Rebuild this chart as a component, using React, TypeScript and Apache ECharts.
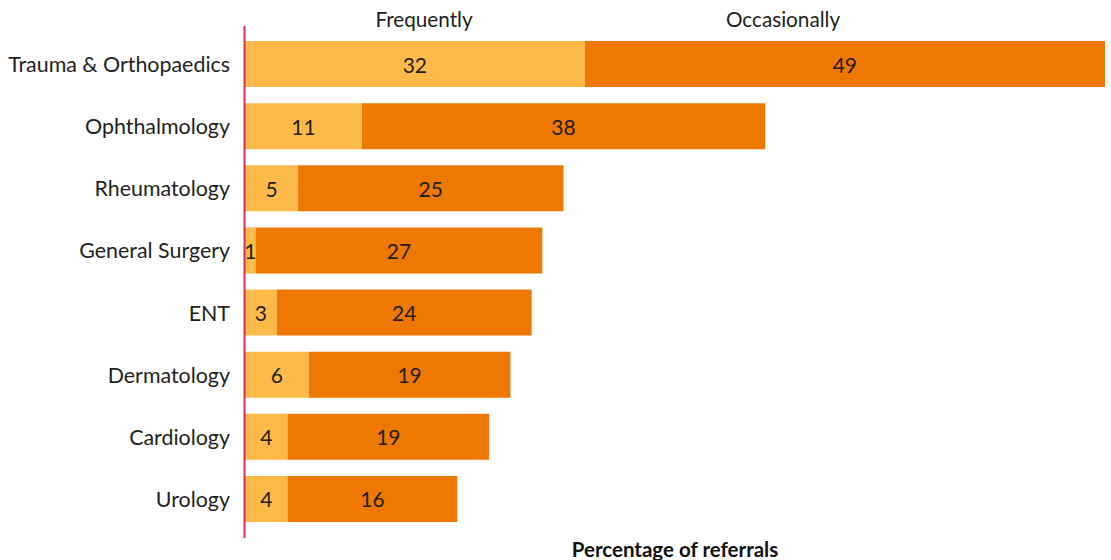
import React, { useEffect, useRef } from "react";
import * as echarts from "echarts";

const categories = [
  "Trauma & Orthopaedics",
  "Ophthalmology",
  "Rheumatology",
  "General Surgery",
  "ENT",
  "Dermatology",
  "Cardiology",
  "Urology",
];
const frequently = [32, 11, 5, 1, 3, 6, 4, 4];
const occasionally = [49, 38, 25, 27, 24, 19, 19, 16];
const seriesNames = ["Frequently", "Occasionally"];
const axisName = "Percentage of referrals";

const FONT = "Lato";
const TEXT = "#231f20";

export default function App() {
  const ref = useRef<HTMLDivElement>(null);
  useEffect(() => {
    if (!ref.current) return;
    const chart = echarts.init(ref.current, undefined, { renderer: "svg" });
    const label = {
      show: true,
      position: "inside" as const,
      color: TEXT,
      fontFamily: FONT,
      fontSize: 21,
    };
    chart.setOption({
      animation: false,
      textStyle: { fontFamily: FONT },
      grid: {
        left: 245,
        right: 6,
        top: 33,
        bottom: 30,
        containLabel: false,
        outerBoundsMode: "none",
      },
      xAxis: {
        type: "value",
        min: 0,
        max: 81,
        axisLine: { show: false },
        axisTick: { show: false },
        axisLabel: { show: false },
        splitLine: { show: false },
        name: axisName,
        nameLocation: "middle",
        nameGap: 8,
        nameTextStyle: {
          fontFamily: FONT,
          fontSize: 20.5,
          fontWeight: "bold",
          color: "#111",
          verticalAlign: "top",
        },
      },
      yAxis: {
        type: "category",
        inverse: true,
        data: categories,
        axisLine: { show: false },
        axisTick: { show: false },
        axisLabel: { margin: 15, color: TEXT, fontFamily: FONT, fontSize: 21.4 },
      },
      graphic: [
        {
          type: "line",
          shape: { x1: 244.5, y1: 26, x2: 244.5, y2: 538 },
          style: { stroke: "#d92c5c", lineWidth: 2 },
          z: 100,
        },
        {
          type: "text",
          x: 424,
          y: 19,
          style: {
            text: seriesNames[0],
            fill: TEXT,
            font: `20.7px ${FONT}`,
            textAlign: "center",
            textVerticalAlign: "middle",
          },
        },
        {
          type: "text",
          x: 783,
          y: 19,
          style: {
            text: seriesNames[1],
            fill: TEXT,
            font: `20.7px ${FONT}`,
            textAlign: "center",
            textVerticalAlign: "middle",
          },
        },
      ],
      series: [
        {
          name: seriesNames[0],
          type: "bar",
          stack: "total",
          data: frequently,
          barWidth: 46,
          itemStyle: { color: "#fdba48" },
          label,
        },
        {
          name: seriesNames[1],
          type: "bar",
          stack: "total",
          data: occasionally,
          barWidth: 46,
          itemStyle: { color: "#ef7800" },
          label,
        },
      ],
    });
    return () => chart.dispose();
  }, []);
  return (
    <div
      ref={ref}
      style={{ position: "fixed", left: 0, top: 0, width: 1111, height: 560, background: "#fff" }}
    />
  );
}
